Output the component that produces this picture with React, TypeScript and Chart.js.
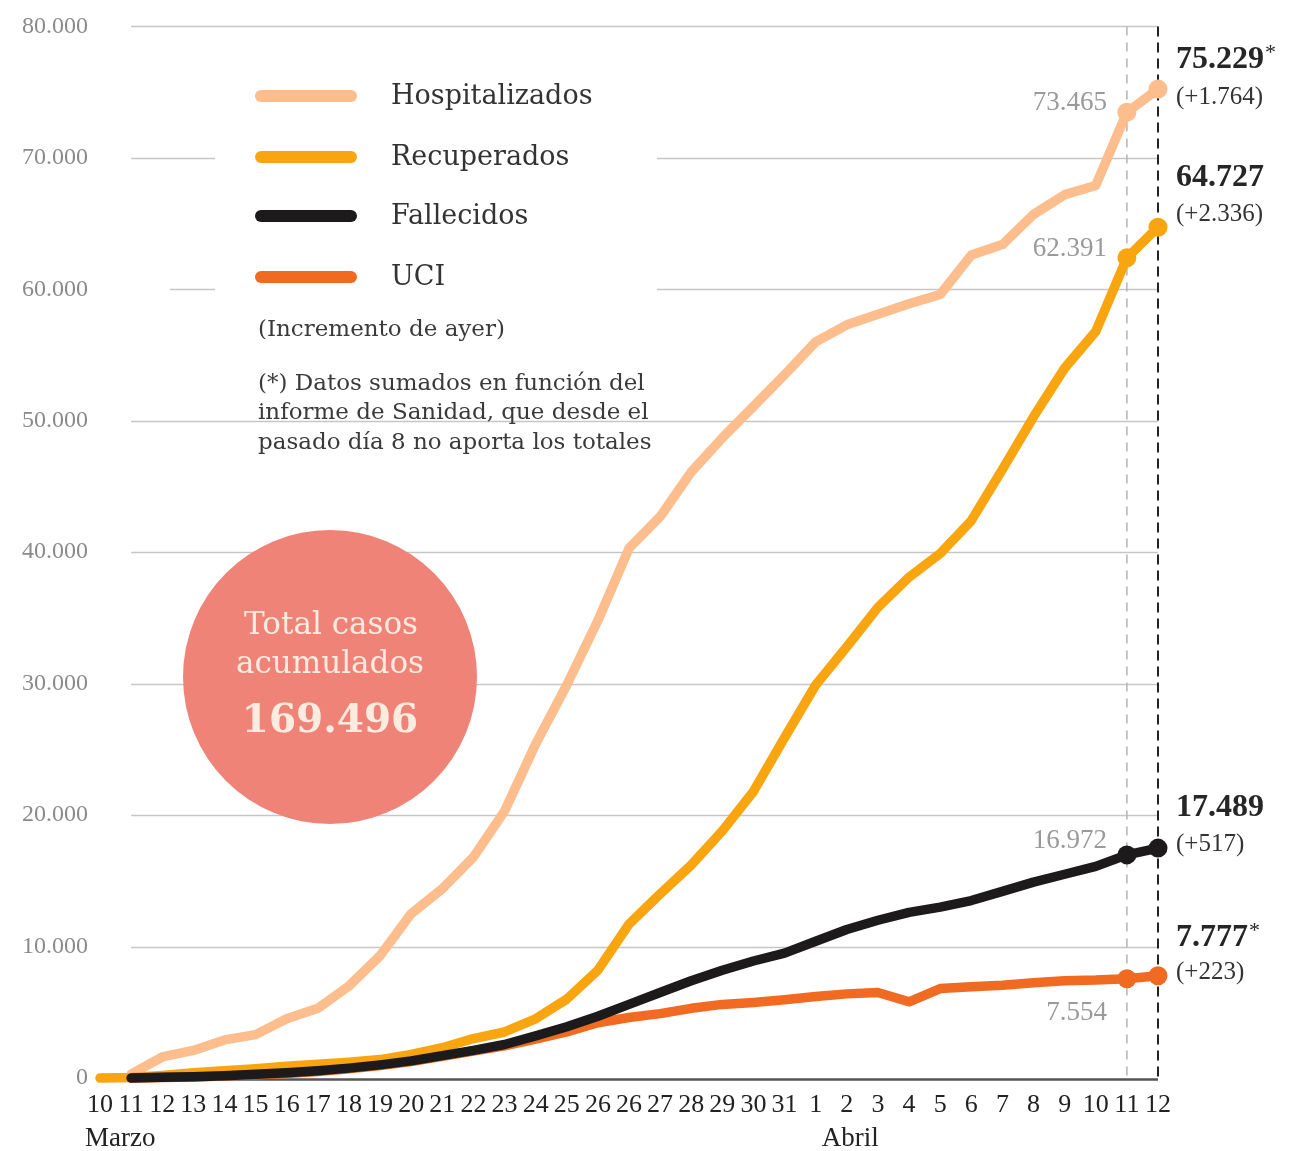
import React, { useEffect, useRef } from 'react';
import { Chart, registerables } from 'chart.js';

Chart.register(...registerables);

// ---------- DATA ----------
const DAYS = ['10', '11', '12', '13', '14', '15', '16', '17', '18', '19', '20', '21', '22', '23', '24', '25', '26', '26', '27', '28', '29', '30', '31', '1', '2', '3', '4', '5', '6', '7', '8', '9', '10', '11', '12'];
const MONTHS = ['Marzo', 'Abril'];

const HOSPITALIZADOS = [null, 300, 1600, 2100, 2900, 3300, 4500, 5300, 7000, 9300, 12500, 14400, 16800, 20300, 25400, 29900, 34800, 40300, 42700, 46100, 48700, 51100, 53500, 56000, 57300, 58100, 58900, 59600, 62600, 63400, 65700, 67200, 67900, 73465, 75229];
const RECUPERADOS = [0, 30, 200, 400, 550, 700, 900, 1050, 1200, 1400, 1800, 2300, 3000, 3500, 4500, 6000, 8200, 11700, 14000, 16200, 18800, 21800, 25900, 29900, 32800, 35800, 38100, 39900, 42400, 46300, 50300, 54000, 56800, 62391, 64727];
const FALLECIDOS = [null, 0, 50, 100, 180, 280, 400, 550, 750, 1000, 1300, 1700, 2100, 2550, 3200, 3900, 4700, 5600, 6500, 7400, 8200, 8900, 9500, 10400, 11300, 12000, 12600, 13000, 13500, 14200, 14900, 15500, 16100, 16972, 17489];
const UCI = [null, 0, 40, 80, 150, 240, 350, 500, 700, 950, 1250, 1650, 2050, 2450, 2950, 3500, 4200, 4600, 4900, 5300, 5600, 5750, 5950, 6200, 6400, 6500, 5800, 6800, 6950, 7050, 7250, 7400, 7450, 7554, 7777];

const SERIES_NAMES = ['Hospitalizados', 'Recuperados', 'Fallecidos', 'UCI'];
const SERIES_DATA = [HOSPITALIZADOS, RECUPERADOS, FALLECIDOS, UCI];
const SERIES_ASTERISK = [true, false, false, true];
const TOTAL_CASOS = 169496;

const NOTE_LINES = ['(Incremento de ayer)', '(*) Datos sumados en función del', 'informe de Sanidad, que desde el', 'pasado día 8 no aporta los totales'];
const CIRCLE_LINES = ['Total casos', 'acumulados'];

// ---------- STYLE ----------
const COLORS = ['#FDBD8C', '#F8A510', '#1c1a1b', '#F06A22'];
const DRAW_ORDER = [3, 2, 0, 1];
const LABEL_OFFSETS = [
  { big: -29, small: 8, prev: -9 },
  { big: -49, small: -13, prev: -9 },
  { big: -40, small: -4, prev: -14 },
  { big: -38, small: -3, prev: 34 },
];
const SERIF = '"DejaVu Serif", serif';
const TIMES = '"Liberation Serif", serif';

const fmt = (n: number) => String(Math.round(n)).replace(/\B(?=(\d{3})+(?!\d))/g, '.');

const decorPlugin = {
  id: 'decor',
  beforeDatasetsDraw(chart: any) {
    const { ctx, chartArea: ca, scales } = chart;
    const x = scales.x;
    const y = scales.y;
    const n = DAYS.length;
    const gx0 = x.getPixelForValue(1);
    ctx.save();

    // gridlines
    ctx.strokeStyle = '#c6c6c6';
    ctx.lineWidth = 1.5;
    y.ticks.forEach((t: any) => {
      if (t.value === 0) return;
      const py = Math.round(y.getPixelForValue(t.value)) + 0.5;
      ctx.beginPath();
      ctx.moveTo(gx0, py);
      ctx.lineTo(ca.right, py);
      ctx.stroke();
    });

    // legend background (interrupts gridlines)
    ctx.fillStyle = '#ffffff';
    ctx.fillRect(215, 60, 442, 245);
    ctx.fillRect(120, 280, 50, 20);

    // bottom axis line
    ctx.strokeStyle = '#555555';
    ctx.lineWidth = 2.5;
    ctx.beginPath();
    ctx.moveTo(gx0, ca.bottom + 1.5);
    ctx.lineTo(ca.right, ca.bottom + 1.5);
    ctx.stroke();

    // dashed verticals
    const xPrev = x.getPixelForValue(n - 2);
    const xLast = x.getPixelForValue(n - 1);
    ctx.setLineDash([9, 7]);
    ctx.strokeStyle = '#b4b4b4';
    ctx.lineWidth = 1.5;
    ctx.beginPath();
    ctx.moveTo(xPrev, ca.top);
    ctx.lineTo(xPrev, ca.bottom);
    ctx.stroke();
    ctx.setLineDash([10, 6]);
    ctx.strokeStyle = '#222222';
    ctx.lineWidth = 2;
    ctx.beginPath();
    ctx.moveTo(xLast, ca.top);
    ctx.lineTo(xLast, ca.bottom + 4);
    ctx.stroke();
    ctx.setLineDash([]);

    // legend
    const rowY = [96, 157, 216, 277];
    SERIES_NAMES.forEach((name, i) => {
      ctx.strokeStyle = COLORS[i];
      ctx.lineWidth = 12;
      ctx.lineCap = 'round';
      ctx.beginPath();
      ctx.moveTo(261, rowY[i]);
      ctx.lineTo(351, rowY[i]);
      ctx.stroke();
      ctx.fillStyle = '#333333';
      ctx.font = `27px ${SERIF}`;
      ctx.textAlign = 'left';
      ctx.textBaseline = 'middle';
      ctx.fillText(name, 391, rowY[i] + 1);
    });

    // notes
    ctx.font = `23px ${SERIF}`;
    ctx.fillStyle = '#3a3a3a';
    const noteY = [330, 384, 413, 443];
    NOTE_LINES.forEach((t, i) => ctx.fillText(t, 258, noteY[i]));

    // circle
    ctx.fillStyle = '#EF8377';
    ctx.beginPath();
    ctx.arc(330, 677, 147, 0, Math.PI * 2);
    ctx.fill();
    ctx.fillStyle = '#FCEBDF';
    ctx.textAlign = 'center';
    ctx.font = `31px ${SERIF}`;
    ctx.fillText(CIRCLE_LINES[0], 331, 626);
    ctx.fillText(CIRCLE_LINES[1], 330, 665);
    ctx.font = `bold 39px ${SERIF}`;
    ctx.fillText(fmt(TOTAL_CASOS), 330, 722);

    // month labels
    ctx.fillStyle = '#222222';
    ctx.font = `27px ${TIMES}`;
    ctx.textAlign = 'left';
    ctx.fillText(MONTHS[0], x.getPixelForValue(0) - 15, ca.bottom + 61);
    ctx.fillText(MONTHS[1], x.getPixelForValue(23) + 6, ca.bottom + 61);

    ctx.restore();
  },
  afterDatasetsDraw(chart: any) {
    const { ctx, scales } = chart;
    const x = scales.x;
    const y = scales.y;
    const n = DAYS.length;
    const xPrev = x.getPixelForValue(n - 2);
    const xLast = x.getPixelForValue(n - 1);
    ctx.save();
    ctx.textBaseline = 'middle';
    SERIES_DATA.forEach((data, i) => {
      const last = data[n - 1] as number;
      const prev = data[n - 2] as number;
      const off = LABEL_OFFSETS[i];
      const pyLast = y.getPixelForValue(last);
      const pyPrev = y.getPixelForValue(prev);
      // big value
      ctx.textAlign = 'left';
      ctx.fillStyle = '#262626';
      ctx.font = `bold 32px ${TIMES}`;
      const big = fmt(last);
      const bx = xLast + 18;
      ctx.fillText(big, bx, pyLast + off.big);
      if (SERIES_ASTERISK[i]) {
        const w = ctx.measureText(big).width;
        ctx.font = `22px ${TIMES}`;
        ctx.fillText('*', bx + w + 1, pyLast + off.big - 7);
      }
      // increment
      ctx.font = `25px ${TIMES}`;
      ctx.fillStyle = '#333333';
      ctx.fillText(`(+${fmt(last - prev)})`, bx, pyLast + off.small);
      // previous value
      ctx.textAlign = 'right';
      ctx.fillStyle = '#9a9a9a';
      ctx.font = `27px ${TIMES}`;
      ctx.fillText(fmt(prev), xPrev - 20, pyPrev + off.prev);
    });
    ctx.restore();
  },
};

export default function App() {
  const ref = useRef<HTMLCanvasElement>(null);
  useEffect(() => {
    const n = DAYS.length;
    const datasets = SERIES_DATA.map((data, i) => ({
      label: SERIES_NAMES[i],
      data,
      borderColor: COLORS[i],
      backgroundColor: COLORS[i],
      pointBackgroundColor: COLORS[i],
      borderWidth: 9.5,
      pointRadius: (c: any) => (c.dataIndex >= n - 2 ? 9.5 : 0),
      pointHoverRadius: 0,
      pointBorderWidth: 0,
      tension: 0,
      borderCapStyle: 'round' as const,
      borderJoinStyle: 'round' as const,
      clip: false as any,
      order: DRAW_ORDER[i],
    }));
    const chart = new Chart(ref.current!, {
      type: 'line',
      data: { labels: DAYS, datasets },
      options: {
        animation: false,
        responsive: false,
        devicePixelRatio: 1,
        layout: { padding: { top: 24, right: 149, left: 0, bottom: 0 } },
        plugins: { legend: { display: false }, tooltip: { enabled: false } },
        events: [],
        scales: {
          x: {
            type: 'category',
            offset: false,
            grid: { display: false, drawTicks: false },
            border: { display: false },
            ticks: {
              autoSkip: false,
              maxRotation: 0,
              minRotation: 0,
              padding: 12,
              color: '#222222',
              font: { family: TIMES, size: 26 },
            },
            afterFit: (axis: any) => { axis.height = 73; },
          },
          y: {
            min: 0,
            max: 80000,
            grid: { display: false, drawTicks: false },
            border: { display: false },
            ticks: {
              stepSize: 10000,
              padding: 12,
              color: '#8a8a8a',
              font: { family: TIMES, size: 24 },
              callback: (v: any) => fmt(Number(v)),
            },
            afterFit: (axis: any) => { axis.width = 100; },
          },
        },
      },
      plugins: [decorPlugin],
    });
    return () => chart.destroy();
  }, []);
  return (
    <div style={{ position: 'absolute', left: 0, top: 0, width: 1307, height: 1151, background: '#ffffff' }}>
      <canvas ref={ref} width={1307} height={1151} style={{ display: 'block', width: 1307, height: 1151 }} />
    </div>
  );
}
